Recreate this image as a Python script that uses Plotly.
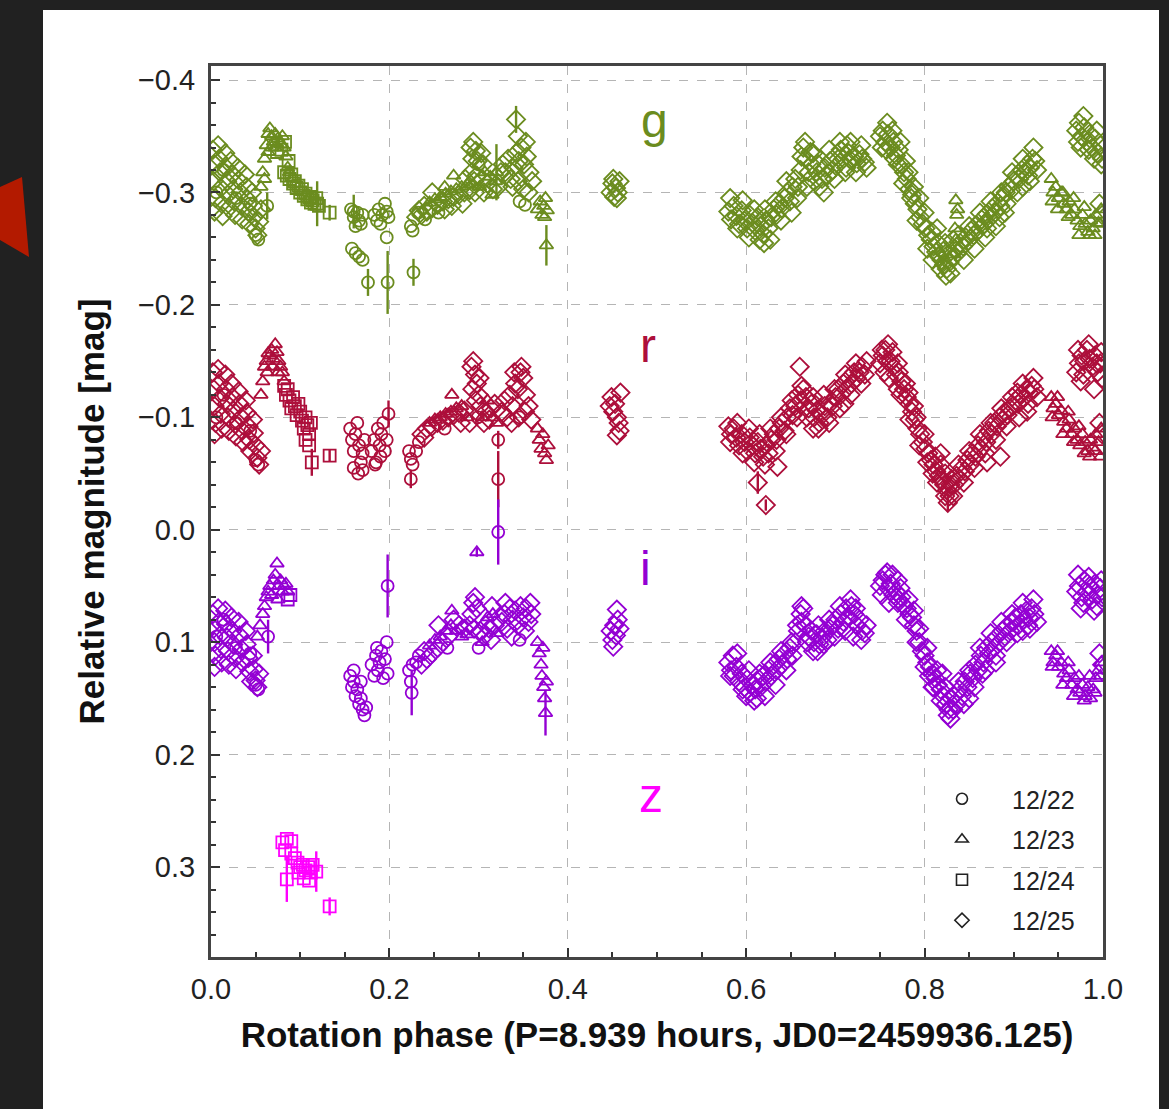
import plotly.graph_objects as go

# ---------------- data (rotation phase, relative magnitude) ----------------
nights = ["12/22", "12/23", "12/24", "12/25"]
night_symbols = {"12/22": "circle-open", "12/23": "triangle-up-open",
                 "12/24": "square-open", "12/25": "diamond-open"}

band_names = ["g", "r", "i", "z"]
band_colors = {"g": "#6b8c1f", "r": "#ad0f3b", "i": "#9400d3", "z": "#ff00ff"}

# ---- g band ----
g_1222 = [(0.006,-0.300),(0.014,-0.320),(0.028,-0.295),(0.044,-0.290),(0.050,-0.262),(0.053,-0.258),
          (0.157,-0.285),(0.160,-0.278),(0.162,-0.270),(0.164,-0.282),(0.166,-0.275),(0.168,-0.272),(0.170,-0.280),
          (0.158,-0.250),(0.162,-0.246),(0.166,-0.243),(0.170,-0.240),
          (0.183,-0.280),(0.186,-0.275),(0.188,-0.285),(0.190,-0.272),(0.192,-0.280),(0.195,-0.290),(0.197,-0.283),
          (0.199,-0.278),(0.197,-0.260),(0.224,-0.270),(0.226,-0.266),(0.232,-0.282),(0.240,-0.276),(0.255,-0.282),
          (0.300,-0.325),(0.346,-0.292),(0.352,-0.289)]
g_1223 = [(0.056,-0.305),(0.058,-0.318),(0.060,-0.330),(0.062,-0.342),(0.064,-0.352),(0.066,-0.357),(0.068,-0.350),
          (0.070,-0.345),(0.072,-0.340),(0.060,-0.312),(0.064,-0.336),(0.068,-0.340),(0.072,-0.352),(0.075,-0.348),
          (0.078,-0.343),(0.080,-0.350),(0.082,-0.340),(0.084,-0.332),(0.086,-0.322),(0.088,-0.318),
          (0.245,-0.291),(0.251,-0.294),(0.257,-0.296),(0.263,-0.299),(0.269,-0.301),(0.272,-0.315),(0.275,-0.303),
          (0.281,-0.305),(0.287,-0.307),(0.262,-0.305),
          (0.301,-0.305),(0.307,-0.318),(0.313,-0.314),(0.319,-0.310),(0.315,-0.298),
          (0.366,-0.285),(0.369,-0.292),(0.371,-0.280),(0.373,-0.288),(0.375,-0.295),(0.377,-0.284),(0.374,-0.278),
          (0.835,-0.293),(0.836,-0.280),(0.834,-0.268),(0.835,-0.258),(0.837,-0.285),(0.833,-0.245),
          (0.942,-0.312),(0.944,-0.300),(0.947,-0.305),(0.950,-0.295),(0.953,-0.300),(0.956,-0.290),(0.959,-0.285),
          (0.962,-0.292),(0.965,-0.280),(0.968,-0.285),(0.971,-0.275),(0.974,-0.270),(0.977,-0.280),(0.980,-0.272),
          (0.983,-0.265),(0.986,-0.275),(0.989,-0.268),(0.992,-0.280),(0.995,-0.273),(0.998,-0.285),(0.985,-0.262),
          (0.943,-0.292),(0.949,-0.285),(0.955,-0.300),(0.961,-0.278),(0.967,-0.295),(0.973,-0.262),(0.979,-0.287),
          (0.991,-0.262),(0.997,-0.272)]
g_1224 = [(0.074,-0.336),(0.079,-0.338),(0.083,-0.345),(0.087,-0.328),
          (0.082,-0.318),(0.085,-0.315),(0.088,-0.312),(0.090,-0.316),(0.092,-0.308),(0.094,-0.310),(0.096,-0.304),
          (0.098,-0.306),(0.100,-0.300),(0.102,-0.303),(0.104,-0.297),(0.106,-0.299),(0.108,-0.294),(0.110,-0.296),
          (0.112,-0.291),(0.114,-0.293),(0.116,-0.290),(0.118,-0.295),(0.121,-0.288)]
g_1225 = [(0.002,-0.338),(0.004,-0.325),(0.003,-0.310),(0.005,-0.295),(0.004,-0.283),(0.008,-0.342),(0.009,-0.330),
          (0.010,-0.318),(0.011,-0.304),(0.012,-0.290),(0.013,-0.279),(0.016,-0.335),(0.017,-0.322),(0.018,-0.310),
          (0.019,-0.298),(0.020,-0.286),(0.022,-0.328),(0.024,-0.316),(0.025,-0.303),(0.026,-0.292),(0.027,-0.280),
          (0.030,-0.322),(0.031,-0.311),(0.033,-0.300),(0.034,-0.288),(0.035,-0.276),(0.038,-0.316),(0.040,-0.305),
          (0.041,-0.294),(0.042,-0.283),(0.043,-0.272),(0.046,-0.300),(0.047,-0.288),(0.048,-0.278),(0.050,-0.268),
          (0.052,-0.262),(0.054,-0.274),(0.056,-0.285),
          (0.230,-0.278),(0.233,-0.284),(0.236,-0.280),(0.239,-0.288),(0.242,-0.283),(0.248,-0.286),(0.254,-0.289),
          (0.260,-0.292),(0.266,-0.294),(0.272,-0.296),(0.278,-0.298),(0.284,-0.300),(0.290,-0.302),(0.248,-0.300),
          (0.262,-0.285),(0.270,-0.288),(0.282,-0.290),(0.285,-0.312),
          (0.291,-0.340),(0.294,-0.345),(0.297,-0.337),(0.303,-0.335),(0.293,-0.330),(0.299,-0.328),(0.305,-0.325),
          (0.292,-0.318),(0.295,-0.310),(0.298,-0.315),(0.304,-0.312),(0.310,-0.308),(0.316,-0.303),(0.296,-0.300),
          (0.306,-0.300),(0.322,-0.305),(0.325,-0.318),
          (0.327,-0.325),(0.330,-0.318),(0.333,-0.330),(0.336,-0.312),(0.339,-0.322),(0.342,-0.335),(0.345,-0.328),
          (0.348,-0.340),(0.351,-0.325),(0.354,-0.332),(0.357,-0.318),(0.360,-0.310),(0.338,-0.305),(0.344,-0.310),
          (0.350,-0.303),(0.356,-0.300),(0.353,-0.345),(0.344,-0.350),
          (0.448,-0.300),(0.450,-0.308),(0.452,-0.296),(0.454,-0.304),(0.456,-0.300),(0.458,-0.310),(0.451,-0.312),
          (0.455,-0.295),
          (0.580,-0.283),(0.583,-0.276),(0.586,-0.288),(0.589,-0.279),(0.592,-0.272),(0.595,-0.284),(0.598,-0.275),
          (0.601,-0.268),(0.604,-0.280),(0.607,-0.273),(0.610,-0.266),(0.613,-0.278),(0.616,-0.270),(0.619,-0.263),
          (0.622,-0.275),(0.625,-0.268),(0.628,-0.278),(0.631,-0.285),(0.634,-0.280),(0.637,-0.290),(0.640,-0.286),
          (0.643,-0.295),(0.646,-0.300),(0.649,-0.292),(0.652,-0.305),(0.620,-0.255),
          (0.582,-0.295),(0.590,-0.268),(0.596,-0.293),(0.603,-0.260),(0.609,-0.285),(0.615,-0.258),(0.621,-0.285),
          (0.627,-0.258),(0.633,-0.292),(0.639,-0.275),(0.645,-0.310),(0.651,-0.282),
          (0.655,-0.312),(0.658,-0.305),(0.661,-0.320),(0.664,-0.340),(0.667,-0.330),(0.670,-0.318),(0.673,-0.325),
          (0.676,-0.310),(0.679,-0.318),(0.682,-0.305),(0.685,-0.312),(0.688,-0.322),(0.691,-0.315),(0.694,-0.328),
          (0.666,-0.345),(0.672,-0.336),
          (0.657,-0.295),(0.662,-0.332),(0.668,-0.305),(0.675,-0.335),(0.681,-0.325),(0.687,-0.300),(0.693,-0.338),
          (0.699,-0.312),(0.705,-0.345),(0.711,-0.318),(0.717,-0.345),(0.723,-0.318),(0.729,-0.342),(0.735,-0.322),
          (0.697,-0.320),(0.700,-0.332),(0.703,-0.325),(0.706,-0.338),(0.709,-0.330),(0.712,-0.322),(0.715,-0.335),
          (0.718,-0.328),(0.721,-0.332),(0.724,-0.326),(0.727,-0.334),(0.730,-0.330),(0.733,-0.327),(0.713,-0.342),
          (0.750,-0.350),(0.753,-0.355),(0.756,-0.345),(0.759,-0.352),(0.762,-0.340),(0.765,-0.345),(0.768,-0.333),
          (0.771,-0.338),(0.774,-0.325),(0.777,-0.318),(0.780,-0.312),(0.783,-0.303),(0.786,-0.298),(0.789,-0.290),
          (0.792,-0.285),(0.795,-0.278),(0.798,-0.272),(0.757,-0.338),(0.766,-0.330),(0.776,-0.308),(0.785,-0.295),
          (0.752,-0.340),(0.758,-0.362),(0.764,-0.355),(0.770,-0.325),(0.773,-0.345),(0.779,-0.328),(0.782,-0.318),
          (0.788,-0.305),(0.791,-0.275),(0.794,-0.295),(0.800,-0.282),(0.803,-0.250),(0.809,-0.240),(0.814,-0.268),
          (0.818,-0.232),(0.823,-0.255),(0.829,-0.228),
          (0.801,-0.268),(0.804,-0.262),(0.807,-0.258),(0.810,-0.252),(0.813,-0.247),(0.816,-0.243),(0.819,-0.240),
          (0.822,-0.236),(0.825,-0.232),(0.828,-0.238),(0.808,-0.265),(0.815,-0.255),(0.821,-0.248),(0.826,-0.245),
          (0.824,-0.226),
          (0.831,-0.242),(0.834,-0.250),(0.837,-0.246),(0.840,-0.255),(0.843,-0.252),(0.846,-0.260),(0.849,-0.257),
          (0.852,-0.266),(0.855,-0.262),(0.858,-0.271),(0.861,-0.267),(0.864,-0.276),(0.867,-0.272),(0.870,-0.281),
          (0.873,-0.277),(0.876,-0.286),(0.879,-0.282),(0.882,-0.291),(0.885,-0.288),(0.888,-0.296),(0.891,-0.300),
          (0.894,-0.305),(0.897,-0.302),(0.870,-0.268),(0.884,-0.278),(0.890,-0.282),
          (0.832,-0.258),(0.838,-0.262),(0.844,-0.240),(0.850,-0.270),(0.856,-0.250),(0.862,-0.282),(0.868,-0.260),
          (0.874,-0.292),(0.880,-0.270),(0.886,-0.300),(0.892,-0.290),(0.898,-0.318),(0.904,-0.300),(0.910,-0.330),
          (0.916,-0.315),(0.922,-0.340),(0.926,-0.320),
          (0.900,-0.310),(0.903,-0.315),(0.906,-0.312),(0.909,-0.320),(0.912,-0.318),(0.915,-0.325),(0.918,-0.322),
          (0.921,-0.330),(0.924,-0.328),(0.910,-0.305),(0.918,-0.310),
          (0.970,-0.355),(0.973,-0.362),(0.976,-0.350),(0.979,-0.358),(0.982,-0.345),(0.985,-0.352),(0.988,-0.340),
          (0.991,-0.348),(0.994,-0.335),(0.997,-0.342),(0.999,-0.330),(0.975,-0.340),(0.990,-0.330),
          (0.972,-0.345),(0.978,-0.368),(0.984,-0.338),(0.993,-0.355),(0.998,-0.325),
          (0.996,-0.290),(0.999,-0.280)]
g_err = [("12/22",0.063,-0.288,0.012),("12/24",0.119,-0.290,0.020),("12/24",0.133,-0.282,0.007),
         ("12/22",0.160,-0.283,0.015),("12/22",0.176,-0.220,0.012),("12/22",0.198,-0.220,0.028),
         ("12/22",0.227,-0.229,0.012),("12/23",0.320,-0.318,0.025),("12/25",0.342,-0.365,0.012),
         ("12/23",0.376,-0.253,0.018)]

# ---- r band ----
r_1222 = [(0.006,-0.100),(0.014,-0.120),(0.028,-0.095),(0.044,-0.088),(0.050,-0.062),(0.053,-0.058),
          (0.156,-0.090),(0.158,-0.080),(0.160,-0.070),(0.162,-0.085),(0.164,-0.095),(0.166,-0.075),(0.168,-0.060),
          (0.170,-0.068),(0.172,-0.080),(0.160,-0.055),(0.165,-0.050),(0.170,-0.053),
          (0.180,-0.070),(0.183,-0.080),(0.185,-0.060),(0.187,-0.090),(0.189,-0.075),(0.191,-0.085),(0.193,-0.095),
          (0.195,-0.070),(0.197,-0.080),(0.184,-0.058),(0.190,-0.065),
          (0.222,-0.070),(0.224,-0.063),(0.226,-0.058),(0.230,-0.070),(0.233,-0.078),(0.262,-0.090),
          (0.299,-0.100),(0.346,-0.100)]
r_1223 = [(0.056,-0.120),(0.058,-0.132),(0.060,-0.145),(0.062,-0.150),(0.064,-0.157),(0.066,-0.155),(0.068,-0.160),
          (0.070,-0.152),(0.072,-0.165),(0.074,-0.158),(0.076,-0.150),(0.078,-0.145),(0.080,-0.140),(0.082,-0.132),
          (0.063,-0.140),(0.069,-0.145),(0.075,-0.140),
          (0.245,-0.095),(0.251,-0.098),(0.257,-0.100),(0.263,-0.103),(0.269,-0.105),(0.270,-0.120),(0.275,-0.108),
          (0.281,-0.110),(0.287,-0.100),
          (0.304,-0.100),(0.310,-0.115),(0.316,-0.100),(0.320,-0.095),
          (0.366,-0.090),(0.368,-0.080),(0.370,-0.072),(0.372,-0.085),(0.374,-0.068),(0.376,-0.062),(0.378,-0.075),
          (0.942,-0.118),(0.944,-0.108),(0.947,-0.112),(0.950,-0.102),(0.953,-0.106),(0.956,-0.096),(0.959,-0.090),
          (0.962,-0.098),(0.965,-0.085),(0.968,-0.090),(0.971,-0.080),(0.974,-0.075),(0.977,-0.085),(0.980,-0.078),
          (0.983,-0.070),(0.986,-0.080),(0.989,-0.073),(0.992,-0.085),(0.995,-0.078),(0.998,-0.090),(0.985,-0.065),
          (0.943,-0.100),(0.949,-0.118),(0.955,-0.085),(0.961,-0.105),(0.967,-0.078),(0.973,-0.092),(0.979,-0.068),
          (0.991,-0.070),(0.997,-0.065)]
r_1224 = [(0.082,-0.128),(0.084,-0.120),(0.086,-0.125),(0.088,-0.115),(0.090,-0.108),(0.092,-0.118),(0.094,-0.110),
          (0.096,-0.102),(0.098,-0.112),(0.100,-0.105),(0.102,-0.097),(0.104,-0.090),(0.106,-0.100),(0.108,-0.093),
          (0.110,-0.085),(0.112,-0.095),(0.106,-0.080),(0.110,-0.075)]
r_1225 = [(0.002,-0.140),(0.003,-0.125),(0.004,-0.110),(0.005,-0.095),(0.004,-0.085),(0.008,-0.143),(0.009,-0.130),
          (0.010,-0.117),(0.011,-0.103),(0.012,-0.090),(0.016,-0.138),(0.017,-0.125),(0.018,-0.112),(0.019,-0.100),
          (0.020,-0.088),(0.023,-0.130),(0.024,-0.118),(0.025,-0.106),(0.027,-0.094),(0.028,-0.083),(0.031,-0.123),
          (0.032,-0.112),(0.034,-0.100),(0.035,-0.088),(0.036,-0.078),(0.039,-0.115),(0.040,-0.104),(0.042,-0.092),
          (0.043,-0.080),(0.044,-0.070),(0.047,-0.098),(0.048,-0.086),(0.050,-0.075),(0.052,-0.064),(0.054,-0.058),
          (0.056,-0.070),
          (0.236,-0.085),(0.239,-0.082),(0.242,-0.090),(0.248,-0.092),(0.254,-0.095),(0.260,-0.097),(0.266,-0.100),
          (0.272,-0.102),(0.278,-0.104),(0.284,-0.106),(0.290,-0.095),(0.280,-0.095),
          (0.292,-0.145),(0.294,-0.150),(0.296,-0.138),(0.298,-0.130),(0.300,-0.120),(0.302,-0.110),(0.306,-0.095),
          (0.308,-0.105),(0.312,-0.098),(0.314,-0.108),(0.318,-0.112),(0.293,-0.125),(0.297,-0.115),(0.301,-0.135),
          (0.326,-0.105),(0.329,-0.115),(0.332,-0.100),(0.335,-0.120),(0.338,-0.110),(0.341,-0.130),(0.344,-0.125),
          (0.347,-0.140),(0.350,-0.135),(0.353,-0.120),(0.356,-0.110),(0.359,-0.098),(0.337,-0.095),(0.345,-0.100),
          (0.352,-0.105),(0.348,-0.145),(0.340,-0.140),
          (0.447,-0.110),(0.449,-0.118),(0.451,-0.105),(0.453,-0.112),(0.455,-0.100),(0.457,-0.095),(0.459,-0.122),
          (0.458,-0.088),(0.455,-0.084),
          (0.580,-0.092),(0.583,-0.085),(0.586,-0.090),(0.589,-0.082),(0.592,-0.075),(0.595,-0.085),(0.598,-0.078),
          (0.601,-0.070),(0.604,-0.082),(0.607,-0.075),(0.610,-0.068),(0.613,-0.078),(0.616,-0.072),(0.619,-0.065),
          (0.622,-0.075),(0.625,-0.068),(0.628,-0.080),(0.631,-0.085),(0.634,-0.080),(0.637,-0.090),(0.640,-0.095),
          (0.643,-0.088),(0.646,-0.100),(0.649,-0.108),(0.652,-0.102),(0.635,-0.056),
          (0.582,-0.078),(0.590,-0.095),(0.596,-0.068),(0.603,-0.090),(0.609,-0.060),(0.615,-0.085),(0.621,-0.058),
          (0.627,-0.090),(0.633,-0.070),(0.639,-0.100),(0.645,-0.085),(0.651,-0.115),
          (0.655,-0.110),(0.658,-0.120),(0.661,-0.115),(0.664,-0.125),(0.667,-0.118),(0.670,-0.108),(0.673,-0.112),
          (0.676,-0.100),(0.679,-0.106),(0.682,-0.095),(0.685,-0.102),(0.688,-0.110),(0.691,-0.100),(0.694,-0.112),
          (0.660,-0.145),(0.675,-0.090),
          (0.657,-0.100),(0.662,-0.128),(0.668,-0.100),(0.675,-0.118),(0.681,-0.090),(0.687,-0.120),(0.693,-0.095),
          (0.699,-0.125),(0.705,-0.108),(0.711,-0.138),(0.717,-0.120),(0.723,-0.148),(0.729,-0.130),(0.735,-0.150),
          (0.697,-0.110),(0.700,-0.118),(0.703,-0.125),(0.706,-0.120),(0.709,-0.130),(0.712,-0.125),(0.715,-0.135),
          (0.718,-0.130),(0.721,-0.140),(0.724,-0.135),(0.727,-0.140),(0.730,-0.145),(0.733,-0.138),(0.710,-0.112),
          (0.750,-0.148),(0.753,-0.155),(0.756,-0.160),(0.759,-0.165),(0.762,-0.150),(0.765,-0.145),(0.768,-0.138),
          (0.771,-0.140),(0.774,-0.132),(0.777,-0.125),(0.780,-0.118),(0.783,-0.112),(0.786,-0.105),(0.789,-0.098),
          (0.792,-0.090),(0.795,-0.085),(0.798,-0.078),(0.755,-0.140),(0.770,-0.125),(0.760,-0.135),(0.783,-0.098),
          (0.752,-0.160),(0.758,-0.150),(0.764,-0.158),(0.770,-0.148),(0.773,-0.120),(0.779,-0.130),(0.782,-0.122),
          (0.788,-0.110),(0.791,-0.100),(0.794,-0.075),(0.800,-0.085),(0.803,-0.060),(0.809,-0.050),(0.814,-0.042),
          (0.818,-0.068),(0.823,-0.030),(0.829,-0.040),
          (0.801,-0.072),(0.804,-0.068),(0.807,-0.062),(0.810,-0.058),(0.813,-0.052),(0.816,-0.048),(0.819,-0.044),
          (0.822,-0.040),(0.825,-0.035),(0.828,-0.030),(0.812,-0.065),(0.818,-0.058),(0.823,-0.050),(0.830,-0.045),
          (0.833,-0.040),(0.836,-0.048),(0.839,-0.045),(0.842,-0.055),(0.845,-0.052),(0.848,-0.062),(0.851,-0.058),
          (0.854,-0.068),(0.857,-0.065),(0.860,-0.075),(0.863,-0.072),(0.866,-0.082),(0.869,-0.078),(0.872,-0.088),
          (0.875,-0.085),(0.878,-0.095),(0.881,-0.092),(0.884,-0.100),(0.887,-0.098),(0.890,-0.105),(0.893,-0.102),
          (0.896,-0.108),(0.885,-0.065),(0.870,-0.060),
          (0.832,-0.030),(0.838,-0.058),(0.844,-0.042),(0.850,-0.070),(0.856,-0.055),(0.862,-0.085),(0.868,-0.068),
          (0.874,-0.095),(0.880,-0.080),(0.886,-0.108),(0.892,-0.092),(0.898,-0.118),(0.904,-0.122),(0.910,-0.130),
          (0.916,-0.112),(0.922,-0.135),(0.926,-0.118),
          (0.899,-0.110),(0.902,-0.115),(0.905,-0.112),(0.908,-0.120),(0.911,-0.117),(0.914,-0.125),(0.917,-0.122),
          (0.920,-0.128),(0.923,-0.125),(0.906,-0.100),(0.915,-0.105),
          (0.970,-0.140),(0.973,-0.148),(0.976,-0.155),(0.979,-0.150),(0.982,-0.160),(0.985,-0.152),(0.988,-0.145),
          (0.991,-0.155),(0.994,-0.140),(0.997,-0.148),(0.999,-0.135),(0.975,-0.132),(0.990,-0.125),
          (0.972,-0.160),(0.978,-0.138),(0.984,-0.165),(0.993,-0.148),(0.998,-0.158),
          (0.996,-0.095),(0.999,-0.085)]
r_err = [("12/24",0.113,-0.060,0.012),("12/24",0.133,-0.066,0.005),("12/22",0.199,-0.103,0.012),
         ("12/22",0.224,-0.045,0.008),("12/22",0.322,-0.080,0.008),("12/22",0.322,-0.045,0.025),
         ("12/25",0.613,-0.042,0.010),("12/25",0.622,-0.022,0.005),("12/25",0.826,-0.024,0.008)]

# ---- i band ----
i_1222 = [(0.006,0.095),(0.014,0.080),(0.028,0.105),(0.044,0.110),(0.050,0.138),(0.053,0.142),
          (0.156,0.130),(0.158,0.140),(0.160,0.135),(0.162,0.148),(0.164,0.142),(0.166,0.155),(0.168,0.150),
          (0.170,0.160),(0.172,0.165),(0.174,0.158),(0.160,0.125),(0.168,0.135),
          (0.180,0.120),(0.183,0.130),(0.185,0.112),(0.187,0.125),(0.189,0.118),(0.191,0.108),(0.193,0.132),
          (0.195,0.115),(0.197,0.100),(0.198,0.128),(0.186,0.105),
          (0.222,0.125),(0.224,0.135),(0.226,0.120),(0.230,0.118),(0.233,0.112),(0.265,0.105),
          (0.300,0.105),(0.346,0.098)]
i_1223 = [(0.052,0.095),(0.055,0.085),(0.058,0.075),(0.060,0.068),(0.062,0.060),(0.064,0.055),(0.066,0.050),
          (0.068,0.058),(0.070,0.045),(0.072,0.040),(0.074,0.030),(0.076,0.050),(0.078,0.045),(0.080,0.055),
          (0.082,0.050),(0.084,0.048),(0.086,0.055),(0.075,0.062),
          (0.245,0.103),(0.251,0.098),(0.257,0.095),(0.263,0.090),(0.269,0.085),(0.270,0.072),(0.275,0.090),
          (0.281,0.095),(0.287,0.093),
          (0.304,0.100),(0.310,0.078),(0.316,0.075),(0.320,0.092),
          (0.366,0.100),(0.368,0.110),(0.370,0.120),(0.371,0.130),(0.373,0.140),(0.374,0.150),(0.376,0.135),
          (0.372,0.105),
          (0.942,0.108),(0.944,0.118),(0.947,0.112),(0.950,0.122),(0.953,0.118),(0.956,0.128),(0.959,0.132),
          (0.962,0.125),(0.965,0.138),(0.968,0.132),(0.971,0.142),(0.974,0.145),(0.977,0.138),(0.980,0.148),
          (0.983,0.140),(0.986,0.150),(0.989,0.142),(0.992,0.132),(0.995,0.125),(0.998,0.118),(0.985,0.130),
          (0.943,0.122),(0.949,0.108),(0.955,0.138),(0.961,0.118),(0.967,0.148),(0.973,0.130),(0.979,0.152),
          (0.991,0.145),(0.997,0.130)]
i_1224 = [(0.086,0.062),(0.089,0.058)]
i_1225 = [(0.002,0.075),(0.003,0.088),(0.004,0.100),(0.005,0.112),(0.004,0.122),(0.008,0.070),(0.009,0.082),
          (0.010,0.094),(0.011,0.106),(0.012,0.118),(0.016,0.072),(0.017,0.084),(0.018,0.096),(0.019,0.108),
          (0.020,0.120),(0.023,0.078),(0.024,0.090),(0.025,0.102),(0.027,0.114),(0.028,0.124),(0.031,0.082),
          (0.032,0.094),(0.034,0.106),(0.035,0.118),(0.039,0.090),(0.040,0.102),(0.042,0.114),(0.043,0.126),
          (0.047,0.112),(0.048,0.124),(0.050,0.134),(0.052,0.140),(0.054,0.128),(0.045,0.135),
          (0.236,0.120),(0.239,0.108),(0.242,0.115),(0.248,0.110),(0.254,0.105),(0.260,0.100),(0.266,0.095),
          (0.272,0.080),(0.278,0.085),(0.284,0.088),(0.290,0.085),(0.255,0.085),
          (0.292,0.075),(0.294,0.065),(0.296,0.060),(0.298,0.070),(0.302,0.090),(0.306,0.095),(0.308,0.085),
          (0.312,0.088),(0.314,0.098),(0.318,0.085),(0.295,0.088),(0.315,0.068),
          (0.326,0.082),(0.329,0.075),(0.332,0.088),(0.335,0.070),(0.338,0.080),(0.341,0.072),(0.344,0.085),
          (0.347,0.068),(0.350,0.078),(0.353,0.070),(0.356,0.082),(0.359,0.075),(0.337,0.095),(0.352,0.090),
          (0.358,0.065),(0.330,0.065),
          (0.448,0.090),(0.450,0.098),(0.452,0.085),(0.454,0.094),(0.456,0.080),(0.458,0.088),(0.455,0.071),
          (0.451,0.104),
          (0.580,0.118),(0.583,0.125),(0.586,0.130),(0.589,0.122),(0.592,0.135),(0.595,0.128),(0.598,0.140),
          (0.601,0.133),(0.604,0.145),(0.607,0.138),(0.610,0.142),(0.613,0.135),(0.616,0.140),(0.619,0.130),
          (0.622,0.135),(0.625,0.125),(0.628,0.130),(0.631,0.120),(0.634,0.125),(0.637,0.115),(0.640,0.120),
          (0.643,0.110),(0.646,0.115),(0.649,0.105),(0.652,0.112),(0.600,0.148),(0.612,0.150),(0.585,0.112),
          (0.582,0.130),(0.590,0.110),(0.596,0.142),(0.603,0.125),(0.609,0.152),(0.615,0.128),(0.621,0.148),
          (0.627,0.118),(0.633,0.138),(0.639,0.108),(0.645,0.125),(0.651,0.100),
          (0.655,0.100),(0.658,0.090),(0.661,0.075),(0.664,0.070),(0.667,0.085),(0.670,0.095),(0.673,0.090),
          (0.676,0.100),(0.679,0.093),(0.682,0.102),(0.685,0.096),(0.688,0.090),(0.691,0.098),(0.694,0.088),
          (0.662,0.082),(0.680,0.108),
          (0.657,0.085),(0.662,0.068),(0.668,0.100),(0.675,0.108),(0.681,0.085),(0.687,0.102),(0.693,0.080),
          (0.699,0.095),(0.705,0.068),(0.711,0.090),(0.717,0.062),(0.723,0.070),(0.729,0.098),(0.735,0.085),
          (0.697,0.085),(0.700,0.080),(0.703,0.088),(0.706,0.075),(0.709,0.082),(0.712,0.070),(0.715,0.078),
          (0.718,0.068),(0.721,0.075),(0.724,0.085),(0.727,0.080),(0.730,0.090),(0.733,0.092),(0.720,0.095),
          (0.750,0.050),(0.753,0.045),(0.756,0.040),(0.759,0.052),(0.762,0.048),(0.765,0.058),(0.768,0.055),
          (0.771,0.062),(0.774,0.060),(0.777,0.068),(0.780,0.070),(0.783,0.075),(0.786,0.078),(0.788,0.085),
          (0.760,0.065),(0.770,0.045),
          (0.752,0.058),(0.758,0.038),(0.764,0.040),(0.770,0.065),(0.773,0.052),(0.779,0.080),(0.782,0.062),
          (0.788,0.072),(0.791,0.100),(0.794,0.088),(0.800,0.122),(0.803,0.105),(0.809,0.140),(0.814,0.125),
          (0.818,0.152),(0.823,0.140),(0.829,0.168),
          (0.791,0.090),(0.794,0.100),(0.797,0.108),(0.800,0.112),(0.803,0.118),(0.806,0.122),(0.809,0.128),
          (0.812,0.132),(0.815,0.138),(0.818,0.142),(0.821,0.148),(0.824,0.155),(0.827,0.160),(0.830,0.150),
          (0.810,0.140),(0.820,0.128),(0.826,0.165),(0.805,0.130),
          (0.833,0.148),(0.836,0.155),(0.839,0.142),(0.842,0.148),(0.845,0.135),(0.848,0.140),(0.851,0.128),
          (0.854,0.132),(0.857,0.120),(0.860,0.125),(0.863,0.112),(0.866,0.118),(0.869,0.105),(0.872,0.110),
          (0.875,0.100),(0.878,0.105),(0.881,0.095),(0.884,0.100),(0.887,0.090),(0.890,0.095),(0.893,0.085),
          (0.896,0.090),(0.850,0.150),(0.865,0.128),(0.880,0.112),
          (0.832,0.160),(0.838,0.135),(0.844,0.155),(0.850,0.125),(0.856,0.140),(0.862,0.105),(0.868,0.125),
          (0.874,0.092),(0.880,0.118),(0.886,0.082),(0.892,0.100),(0.898,0.075),(0.904,0.092),(0.910,0.065),
          (0.916,0.085),(0.922,0.062),(0.926,0.082),
          (0.899,0.082),(0.902,0.078),(0.905,0.085),(0.908,0.075),(0.911,0.080),(0.914,0.072),(0.917,0.078),
          (0.920,0.070),(0.923,0.075),(0.910,0.090),(0.918,0.088),
          (0.970,0.055),(0.973,0.050),(0.976,0.060),(0.979,0.045),(0.982,0.055),(0.985,0.050),(0.988,0.062),
          (0.991,0.048),(0.994,0.058),(0.997,0.052),(0.999,0.060),(0.975,0.070),(0.990,0.072),
          (0.972,0.040),(0.978,0.065),(0.984,0.042),(0.993,0.068),(0.998,0.045),
          (0.996,0.110),(0.999,0.120)]
i_err = [("12/22",0.064,0.095,0.015),("12/22",0.198,0.050,0.028),("12/22",0.225,0.145,0.020),
         ("12/22",0.322,0.002,0.029),("12/23",0.375,0.163,0.020),("12/23",0.298,0.020,0.004)]

# ---- z band ----
z_1222 = []
z_1223 = []
z_1224 = [(0.080,0.278),(0.085,0.275),(0.090,0.277),(0.083,0.285),(0.090,0.288),(0.094,0.292),(0.097,0.296),
          (0.100,0.300),(0.103,0.298),(0.106,0.303),(0.109,0.300),(0.112,0.305),(0.098,0.305),(0.104,0.310),
          (0.110,0.312),(0.114,0.298)]
z_1225 = []
z_err = [("12/24",0.085,0.311,0.020),("12/24",0.118,0.304,0.018),("12/24",0.133,0.335,0.008)]

band_data = {
    "g": {"12/22": g_1222, "12/23": g_1223, "12/24": g_1224, "12/25": g_1225, "err": g_err},
    "r": {"12/22": r_1222, "12/23": r_1223, "12/24": r_1224, "12/25": r_1225, "err": r_err},
    "i": {"12/22": i_1222, "12/23": i_1223, "12/24": i_1224, "12/25": i_1225, "err": i_err},
    "z": {"12/22": z_1222, "12/23": z_1223, "12/24": z_1224, "12/25": z_1225, "err": z_err},
}
band_label_pos = {"g": (0.497, -0.364), "r": (0.490, -0.164), "i": (0.487, 0.034), "z": (0.493, 0.236)}

x_tick_vals = [0.0, 0.2, 0.4, 0.6, 0.8, 1.0]
y_tick_vals = [-0.4, -0.3, -0.2, -0.1, 0.0, 0.1, 0.2, 0.3]

# ---------------- figure ----------------
W, H = 1169, 1109
L, R, T, B = 211, 66, 66, 152
PW, PH = W - L - R, H - T - B

def px2paper(px, py):
    return (px - L) / PW, (H - B - py) / PH

sizes = {"12/22": 12, "12/23": 12, "12/24": 12, "12/25": 14}
fig = go.Figure()

for b in band_names:
    col = band_colors[b]
    for n in nights:
        pts = band_data[b][n]
        if not pts:
            continue
        fig.add_trace(go.Scatter(
            x=[p[0] for p in pts], y=[p[1] for p in pts], mode="markers", showlegend=False,
            legendgroup=n,
            marker=dict(symbol=night_symbols[n], size=sizes[n], color=col, line=dict(width=1.8, color=col)),
            hoverinfo="skip"))
    for n in nights:
        pts = [e for e in band_data[b]["err"] if e[0] == n]
        if not pts:
            continue
        fig.add_trace(go.Scatter(
            x=[p[1] for p in pts], y=[p[2] for p in pts], mode="markers", showlegend=False,
            legendgroup=n,
            marker=dict(symbol=night_symbols[n], size=sizes[n], color=col, line=dict(width=1.8, color=col)),
            error_y=dict(type="data", array=[p[3] for p in pts], visible=True, color=col, thickness=2.4, width=0),
            hoverinfo="skip"))

# legend entries
for k, n in enumerate(nights):
    fig.add_trace(go.Scatter(
        x=[None], y=[None], mode="markers", name=n, legendgroup=n,
        marker=dict(symbol=night_symbols[n], size=11, color="#222", line=dict(width=1.6, color="#222"))))

# band labels
for b in band_names:
    xl, yl = band_label_pos[b]
    fig.add_annotation(x=xl, y=yl, text=b, showarrow=False, xanchor="center", yanchor="middle",
                       font=dict(family="Liberation Sans, Arial, sans-serif", size=48, color=band_colors[b]))

# white panel + red arrow decoration
x0, y1 = px2paper(43, 10)
x1, y0 = px2paper(1159, 1109)
fig.add_shape(type="rect", xref="paper", yref="paper", x0=x0, x1=x1, y0=y0, y1=y1,
              fillcolor="white", line=dict(width=0), layer="below")
tri = [px2paper(0, 187), px2paper(22, 177), px2paper(29, 257), px2paper(0, 240)]
path = "M " + " L ".join(f"{a:.5f},{c:.5f}" for a, c in tri) + " Z"
fig.add_shape(type="path", xref="paper", yref="paper", path=path,
              fillcolor="#b31a00", line=dict(width=0), layer="above")

axis_font = dict(family="Liberation Sans, Arial, sans-serif", size=29, color="#222")
title_font = dict(family="Liberation Sans, Arial, sans-serif", size=35, color="#111")

fig.update_xaxes(
    range=[0, 1], tickvals=x_tick_vals, ticktext=[f"{v:.1f}" for v in x_tick_vals],
    ticks="inside", ticklen=9, tickwidth=2, tickcolor="#333",
    minor=dict(dtick=0.05, tick0=0, ticks="inside", ticklen=5, tickwidth=1.5, tickcolor="#333", showgrid=False),
    showgrid=True, gridcolor="#b5b5b5", griddash="dash", gridwidth=1,
    showline=True, mirror=True, linecolor="#444", linewidth=3, zeroline=False,
    tickfont=axis_font, ticklabelstandoff=4,
    title=dict(text="<b>Rotation phase (P=8.939 hours, JD0=2459936.125)</b>", font=title_font, standoff=19))
fig.update_yaxes(
    range=[0.38, -0.4125], tickvals=y_tick_vals,
    ticktext=[("\u2212" if v < 0 else "") + f"{abs(v):.1f}" for v in y_tick_vals],
    ticks="inside", ticklen=9, tickwidth=2, tickcolor="#333",
    minor=dict(dtick=0.02, tick0=0, ticks="inside", ticklen=5, tickwidth=1.5, tickcolor="#333", showgrid=False),
    showgrid=True, gridcolor="#b5b5b5", griddash="dash", gridwidth=1,
    showline=True, mirror=True, linecolor="#444", linewidth=3, zeroline=False,
    tickfont=axis_font, ticklabelstandoff=7,
    title=dict(text="<b>Relative magnitude [mag]</b>", font=title_font, standoff=23))

lx, ly = px2paper(912, 776)
fig.update_layout(
    width=W, height=H, margin=dict(l=L, r=R, t=T, b=B, autoexpand=False),
    paper_bgcolor="#212121", plot_bgcolor="white",
    showlegend=True,
    legend=dict(x=lx, y=ly, xanchor="left", yanchor="top", bgcolor="rgba(0,0,0,0)",
                font=dict(family="Liberation Sans, Arial, sans-serif", size=25, color="#222"),
                itemwidth=90, tracegroupgap=5, traceorder="grouped", groupclick="toggleitem"),
)

fig.write_html("out.html")
